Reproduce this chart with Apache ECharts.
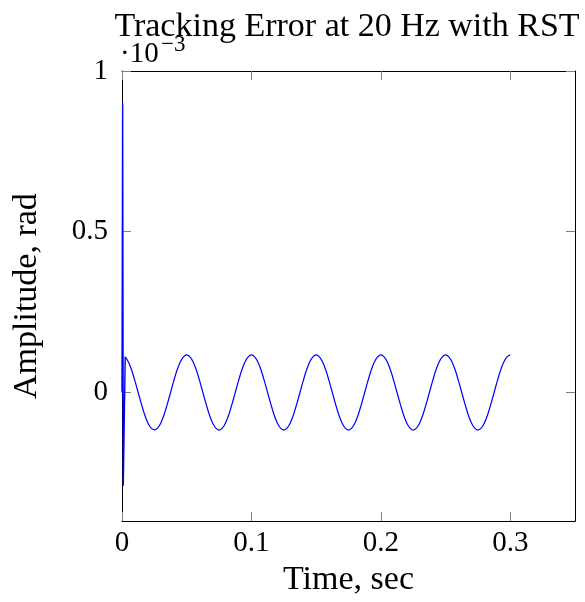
<!DOCTYPE html>
<html>
<head>
<meta charset="utf-8">
<script src="https://cdn.jsdelivr.net/npm/echarts@6/dist/echarts.min.js"></script>
<style>html,body{margin:0;padding:0;background:#fff}#c{width:585px;height:602px}</style>
</head>
<body>
<div id="c"></div>
<script>
// Data (amplitude in units of 1e-3 rad)
const transientTime = [0, 0.0005, 0.001, 0.0025];
const transientValue = [0, 0.9, -0.29, 0.111];
const steadyTime = [
 0.0025,0.005,0.0075,0.01,0.0125,0.015,0.0175,0.02,0.0225,0.025,0.0275,0.03,0.0325,0.035,0.0375,0.04,0.0425,0.045,0.0475,0.05,
 0.0525,0.055,0.0575,0.06,0.0625,0.065,0.0675,0.07,0.0725,0.075,0.0775,0.08,0.0825,0.085,0.0875,0.09,0.0925,0.095,0.0975,0.1,
 0.1025,0.105,0.1075,0.11,0.1125,0.115,0.1175,0.12,0.1225,0.125,0.1275,0.13,0.1325,0.135,0.1375,0.14,0.1425,0.145,0.1475,0.15,
 0.1525,0.155,0.1575,0.16,0.1625,0.165,0.1675,0.17,0.1725,0.175,0.1775,0.18,0.1825,0.185,0.1875,0.19,0.1925,0.195,0.1975,0.2,
 0.2025,0.205,0.2075,0.21,0.2125,0.215,0.2175,0.22,0.2225,0.225,0.2275,0.23,0.2325,0.235,0.2375,0.24,0.2425,0.245,0.2475,0.25,
 0.2525,0.255,0.2575,0.26,0.2625,0.265,0.2675,0.27,0.2725,0.275,0.2775,0.28,0.2825,0.285,0.2875,0.29,0.2925,0.295,0.2975,0.3
];
const steadyValue = [
 0.111,0.095,0.069,0.036,0,-0.036,-0.069,-0.095,-0.111,-0.116,-0.111,-0.095,-0.069,-0.036,0,0.036,0.069,0.095,0.111,0.117,
 0.111,0.095,0.069,0.036,0,-0.036,-0.069,-0.095,-0.111,-0.117,-0.111,-0.095,-0.069,-0.036,0,0.036,0.069,0.095,0.111,0.117,
 0.111,0.095,0.069,0.036,0,-0.036,-0.069,-0.095,-0.111,-0.117,-0.111,-0.095,-0.069,-0.036,0,0.036,0.069,0.095,0.111,0.117,
 0.111,0.095,0.069,0.036,0,-0.036,-0.069,-0.095,-0.111,-0.117,-0.111,-0.095,-0.069,-0.036,0,0.036,0.069,0.095,0.111,0.117,
 0.111,0.095,0.069,0.036,0,-0.036,-0.069,-0.095,-0.111,-0.117,-0.111,-0.095,-0.069,-0.036,0,0.036,0.069,0.095,0.111,0.117,
 0.111,0.095,0.069,0.036,0,-0.036,-0.069,-0.095,-0.111,-0.117,-0.111,-0.095,-0.069,-0.036,0,0.036,0.069,0.095,0.111,0.117
];
const xTicks = [0, 0.1, 0.2, 0.3];
const yTicks = [0, 0.5, 1];
const titleText = 'Tracking Error at 20 Hz with RST';
const xName = 'Time, sec';
const yName = 'Amplitude, rad';

const FONT = '"Liberation Serif", "Times New Roman", serif';
const FS = 29;
const FS_TEXT = 34;
const chart = echarts.init(document.getElementById('c'), null, {renderer: 'canvas'});
const zip = (a, b) => a.map((v, i) => [v, b[i]]);
const tickStyle = {show: true, inside: true, length: 9, lineStyle: {color: '#808080', width: 1}};
const lineStyleAxis = {show: true, onZero: false, lineStyle: {color: '#000', width: 1}};
chart.setOption({
  animation: false,
  backgroundColor: '#fff',
  grid: {left: 122, right: 10, top: 71, bottom: 79, containLabel: false},
  xAxis: [{
    type: 'value', min: 0, max: 0.35, position: 'bottom',
    axisLine: lineStyleAxis,
    axisTick: Object.assign({customValues: xTicks}, tickStyle),
    axisLabel: {customValues: xTicks, margin: 8, fontFamily: FONT, fontSize: FS, color: '#000', formatter: v => String(v)},
    splitLine: {show: false},
    name: xName, nameLocation: 'middle', nameGap: 38,
    nameTextStyle: {fontFamily: FONT, fontSize: FS_TEXT, color: '#000'}
  }, {
    type: 'value', min: 0, max: 0.35, position: 'top',
    axisLine: lineStyleAxis,
    axisTick: Object.assign({customValues: xTicks}, tickStyle),
    axisLabel: {show: false}, splitLine: {show: false}
  }],
  yAxis: [{
    type: 'value', min: -0.4, max: 1, position: 'left',
    axisLine: lineStyleAxis,
    axisTick: Object.assign({customValues: yTicks}, tickStyle),
    axisLabel: {customValues: yTicks, margin: 14, fontFamily: FONT, fontSize: FS, color: '#000', formatter: v => String(v)},
    splitLine: {show: false},
    name: yName, nameLocation: 'middle', nameGap: 78,
    nameTextStyle: {fontFamily: FONT, fontSize: FS_TEXT, color: '#000'}
  }, {
    type: 'value', min: -0.4, max: 1, position: 'right',
    axisLine: lineStyleAxis,
    axisTick: Object.assign({customValues: yTicks}, tickStyle),
    axisLabel: {show: false}, splitLine: {show: false}
  }],
  series: [{
    type: 'line', data: zip(transientTime, transientValue), showSymbol: false,
    lineStyle: {color: '#0000ff', width: 1.4}, itemStyle: {color: '#0000ff'}
  }, {
    type: 'line', data: zip(steadyTime, steadyValue), showSymbol: false, smooth: 0.4,
    lineStyle: {color: '#0000ff', width: 1.2}, itemStyle: {color: '#0000ff'}
  }],
  graphic: [{
    type: 'text', x: 347, y: 27,
    style: {text: titleText, font: FS_TEXT + 'px ' + FONT, fill: '#000', align: 'center', verticalAlign: 'middle'}
  }, {
    type: 'text', x: 120, y: 54,
    style: {text: '·10', font: FS + 'px ' + FONT, fill: '#000', align: 'left', verticalAlign: 'middle'}
  }, {
    type: 'text', x: 161, y: 45,
    style: {text: '−3', font: '23px ' + FONT, fill: '#000', align: 'left', verticalAlign: 'middle'}
  }]
});
</script>
</body>
</html>
